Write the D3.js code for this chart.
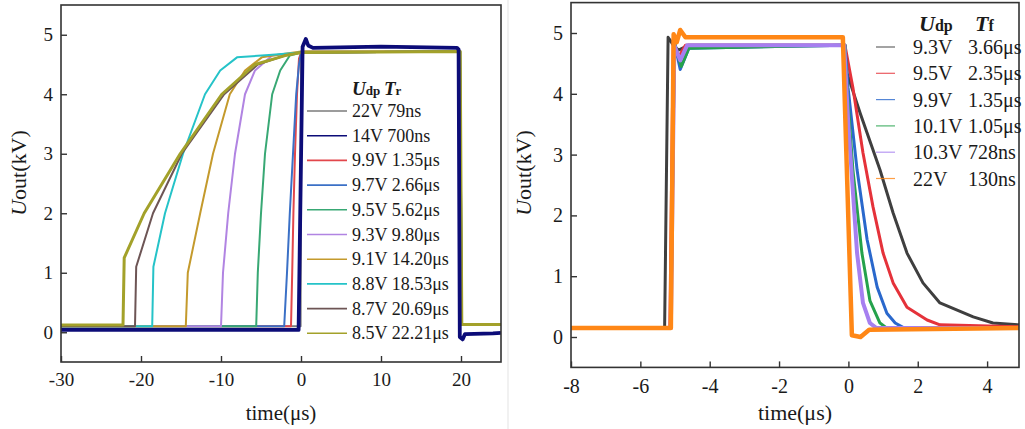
<!DOCTYPE html>
<html><head><meta charset="utf-8">
<script src="https://cdn.jsdelivr.net/npm/d3@7"></script>
<style>
body{margin:0;background:#fff}
svg{display:block}
svg text{font-family:"Liberation Serif","LiberationSerif","Times New Roman",Times,"Nimbus Roman","DejaVu Serif",serif;fill:#1a1a1a}
</style></head>
<body><svg id="c" width="1025" height="429"></svg>
<script>
// ---------- tick labels ----------
const leftXTicks=[-30,-20,-10,0,10,20];
const leftYTicks=[0,1,2,3,4,5];
const rightXTicks=[-8,-6,-4,-2,0,2,4];
const rightYTicks=[0,1,2,3,4,5];

// ---------- left panel (rise) legend ----------
const riseVolts=["22V","14V","9.9V","9.7V","9.5V","9.3V","9.1V","8.8V","8.7V","8.5V"];
const riseTimes=["79ns","700ns","1.35μs","2.66μs","5.62μs","9.80μs","14.20μs","18.53μs","20.69μs","22.21μs"];

// ---------- left panel series: [time μs, Uout kV] ----------
const rise22V=[[-30,0.1],[-0.05,0.1],[0.03,4.72],[19.8,4.72],[19.95,0.12],[25,0.12]];
const rise14V=[[-30,0.04],[-0.3,0.04],[0.2,4.8],[0.6,4.93],[0.9,4.82],[1.5,4.78],[10,4.8],[19.5,4.78],[19.7,4.75],[19.85,-0.08],[20.2,-0.12],[20.5,-0.03],[24,-0.02],[25,-0.01]];
const rise9_9V=[[-30,0.1],[-1.25,0.1],[-1.1,1.0],[-0.95,2.0],[-0.75,3.0],[-0.5,4.0],[-0.25,4.6],[0,4.7],[19.8,4.72],[20,0.12],[25,0.12]];
const rise9_7V=[[-30,0.1],[-2.1,0.1],[-1.75,1.0],[-1.4,2.0],[-1.0,3.0],[-0.6,4.0],[-0.25,4.5],[0,4.7],[19.8,4.72],[20,0.12],[25,0.12]];
const rise9_5V=[[-30,0.1],[-5.6,0.1],[-5.4,1.0],[-5.0,2.0],[-4.5,3.0],[-3.6,4.0],[-2.6,4.4],[-1.4,4.65],[0,4.7],[19.8,4.72],[20,0.12],[25,0.12]];
const rise9_3V=[[-30,0.1],[-10,0.1],[-9.75,1.0],[-9.1,2.0],[-8.25,3.0],[-7.0,4.0],[-5.75,4.4],[-3.6,4.65],[0,4.7],[19.8,4.72],[20,0.12],[25,0.12]];
const rise9_1V=[[-30,0.1],[-14.4,0.1],[-14.15,1.0],[-12.6,2.0],[-11.0,3.0],[-8.9,4.0],[-7.0,4.4],[-4.9,4.62],[-2,4.68],[0,4.72],[19.9,4.72],[20.1,0.13],[25,0.13]];
const rise8_8V=[[-30,0.1],[-18.6,0.1],[-18.45,1.1],[-17.0,2.0],[-14.75,3.0],[-12.0,4.0],[-10.1,4.4],[-8.0,4.62],[-4,4.66],[0,4.7],[19.9,4.72],[20.1,0.13],[25,0.13]];
const rise8_7V=[[-30,0.1],[-20.75,0.1],[-20.6,1.1],[-18.5,2.0],[-14.9,3.0],[-9.6,4.0],[-5.4,4.5],[-2,4.65],[0,4.7],[19.9,4.72],[20.1,0.13],[25,0.13]];
const rise8_5V=[[-30,0.12],[-22.25,0.12],[-22.1,1.25],[-19.6,2.0],[-15.1,3.0],[-9.9,4.0],[-5.75,4.5],[-2,4.65],[0,4.7],[19.9,4.72],[20.1,0.13],[25,0.13]];
const riseSeries=[rise22V,rise14V,rise9_9V,rise9_7V,rise9_5V,rise9_3V,rise9_1V,rise8_8V,rise8_7V,rise8_5V];

// ---------- right panel (fall) legend ----------
const fallVolts=["9.3V","9.5V","9.9V","10.1V","10.3V","22V"];
const fallTimes=["3.66μs","2.35μs","1.35μs","1.05μs","728ns","130ns"];

// ---------- right panel series ----------
const fall9_3V=[[-8,0.15],[-5.3,0.15],[-5.2,4.93],[-5.05,4.8],[-4.9,4.72],[-4.6,4.8],[-0.1,4.8],[-0.04,4.34],[0.34,3.68],[0.91,2.75],[1.29,2.04],[1.69,1.38],[2.15,0.89],[2.64,0.56],[3.6,0.33],[4.17,0.23],[4.92,0.2]];
const fall9_5V=[[-8,0.15],[-5.15,0.15],[-5.05,4.9],[-4.9,4.6],[-4.7,4.8],[-0.1,4.8],[0.13,4.1],[0.42,3.03],[0.71,2.14],[1.0,1.38],[1.29,0.89],[1.69,0.49],[2.27,0.28],[2.64,0.2],[4.92,0.17]];
const fall9_9V=[[-8,0.15],[-5.12,0.15],[-5.02,4.85],[-4.85,4.4],[-4.6,4.75],[-0.1,4.8],[-0.01,4.1],[0.25,2.75],[0.54,1.6],[0.83,0.82],[1.11,0.39],[1.35,0.23],[1.6,0.15],[4.92,0.15]];
const fall10_1V=[[-8,0.15],[-5.12,0.15],[-5.02,4.85],[-4.82,4.45],[-4.6,4.75],[-0.1,4.8],[-0.04,4.1],[0.13,2.75],[0.39,1.38],[0.62,0.6],[0.91,0.23],[1.1,0.15],[4.92,0.15]];
const fall10_3V=[[-8,0.15],[-5.12,0.15],[-5.02,4.8],[-4.85,4.55],[-4.65,4.8],[-0.12,4.8],[-0.01,3.57],[0.25,1.38],[0.42,0.56],[0.62,0.23],[0.8,0.15],[4.92,0.15]];
const fall22V=[[-8,0.15],[-5.12,0.15],[-5.04,4.98],[-4.95,4.85],[-4.85,5.05],[-4.7,4.93],[-0.16,4.93],[0.1,0.03],[0.35,0.0],[0.6,0.12],[4.92,0.15]];
const fallSeries=[fall9_3V,fall9_5V,fall9_9V,fall10_1V,fall10_3V,fall22V];

// ---------- styles ----------
const FONT='"Liberation Serif","Times New Roman",Times,"Nimbus Roman","DejaVu Serif",serif';
const riseColors=["#7b7b7b","#0c0c78","#e2474c","#3b70c6","#38a874","#b184e2","#c49a2c","#25c3c8","#6d5555","#a3a12a"];
const riseWidths=[2,3.8,2,2,2,2,2,2,2,3];
const riseOrder=[0,2,3,4,5,6,7,8,9,1];
const fallColors=["#3f3f3f","#e5323a","#2a68cc","#25a24c","#a67ff0","#ff8716"];
const fallWidths=[3,3,3,3,4,4.5];

const svg=d3.select("#c");
svg.append("line").attr("x1",508).attr("x2",508).attr("y1",0).attr("y2",429).attr("stroke","#e3e3e3").attr("stroke-width",1);

function panel(o){
  const g=svg.append("g");
  const x=d3.scaleLinear().domain(o.xd).range([o.l,o.r]);
  const y=d3.scaleLinear().domain([-0.5,5.5]).range([o.b,o.t]);
  const cid="clip"+o.id;
  svg.append("clipPath").attr("id",cid).append("rect")
    .attr("x",o.l).attr("y",o.t).attr("width",o.r-o.l).attr("height",o.b-o.t);
  const line=d3.line().x(d=>x(d[0])).y(d=>y(d[1]));
  const lg=g.append("g").attr("clip-path",`url(#${cid})`);
  o.order.forEach(i=>{
    lg.append("path").datum(o.series[i]).attr("d",line).attr("fill","none")
      .attr("stroke",o.colors[i]).attr("stroke-width",o.widths[i]).attr("stroke-linejoin","round");
  });
  const ax=g.append("g").attr("transform",`translate(0,${o.b})`)
    .call(d3.axisBottom(x).tickValues(o.xt).tickSizeInner(-6).tickSizeOuter(0).tickPadding(o.xpad).tickFormat(d3.format("d")));
  const ay=g.append("g").attr("transform",`translate(${o.l},0)`)
    .call(d3.axisLeft(y).tickValues(o.yt).tickSizeInner(-6).tickSizeOuter(0).tickPadding(8).tickFormat(d3.format("d")));
  [ax,ay].forEach(a=>{
    a.attr("font-family",FONT).attr("font-size",o.fs);
    a.select(".domain").remove();
    a.selectAll(".tick line").attr("stroke","#333").attr("stroke-width",1.4);
    a.selectAll("text").attr("font-family",FONT).style("font-size",o.fs+"px").style("font-family",FONT).attr("fill","#1a1a1a");
  });
  ax.selectAll("text").text(d=>d<0?"-"+Math.abs(d):d);
  g.append("rect").attr("x",o.l).attr("y",o.t).attr("width",o.r-o.l).attr("height",o.b-o.t)
    .attr("fill","none").attr("stroke","#333").attr("stroke-width",1.6);
  g.append("text").attr("x",(o.l+o.r)/2).attr("y",420).attr("text-anchor","middle")
    .style("font-size",o.tfs+"px").text("time(μs)");
  const yt=g.append("text").attr("transform",`translate(${o.ytx},173) rotate(-90)`)
    .attr("text-anchor","middle").style("font-size","22px");
  yt.append("tspan").attr("font-style","italic").text("U");
  yt.append("tspan").text("out(kV)");
  return {x,y,g};
}

panel({id:"L",l:61,r:501,t:5,b:362,xd:[-30,25],xt:leftXTicks,yt:leftYTicks,
  series:riseSeries,colors:riseColors,widths:riseWidths,order:riseOrder,fs:19,tfs:21,xpad:11,ytx:26});
panel({id:"R",l:571,r:1019,t:2.6,b:367.4,xd:[-8,4.92],xt:rightXTicks,yt:rightYTicks,
  series:fallSeries,colors:fallColors,widths:fallWidths,order:[0,1,2,3,4,5],fs:20,tfs:22,xpad:11,ytx:531});

// ---------- left legend ----------
const lgL=svg.append("g");
const t1=lgL.append("text").attr("x",352).attr("y",95).attr("font-weight","bold");
t1.append("tspan").attr("font-style","italic").style("font-size","19px").text("U");
t1.append("tspan").style("font-size","13px").text("dp");
const t1b=lgL.append("text").attr("x",384).attr("y",95).attr("font-weight","bold");
t1b.append("tspan").attr("font-style","italic").style("font-size","19px").text("T");
t1b.append("tspan").style("font-size","13px").text("r");
riseVolts.forEach((v,i)=>{
  const cy=111+i*24.7;
  lgL.append("line").attr("x1",307).attr("x2",347).attr("y1",cy).attr("y2",cy)
    .attr("stroke",riseColors[i]).attr("stroke-width",1.6);
  lgL.append("text").attr("x",352).attr("y",cy+6).style("font-size","18px").text(v+" "+riseTimes[i]);
});

// ---------- right legend ----------
const lgR=svg.append("g");
const t2=lgR.append("text").attr("y",31).attr("font-weight","bold");
t2.append("tspan").attr("x",919).attr("font-style","italic").style("font-size","22px").text("U");
t2.append("tspan").style("font-size","16px").text("dp");
const t3=lgR.append("text").attr("y",31).attr("font-weight","bold");
t3.append("tspan").attr("x",975).attr("font-style","italic").style("font-size","22px").text("T");
t3.append("tspan").style("font-size","16px").text("f");
fallVolts.forEach((v,i)=>{
  const cy=47+i*26.3;
  lgR.append("line").attr("x1",876).attr("x2",895).attr("y1",cy).attr("y2",cy)
    .attr("stroke",fallColors[i]).attr("stroke-width",1.2).attr("stroke-opacity",0.8);
  lgR.append("text").attr("x",913).attr("y",cy+7).style("font-size","20px").text(v);
  lgR.append("text").attr("x",968).attr("y",cy+7).style("font-size","20px").text(fallTimes[i]);
});
</script></body></html>
